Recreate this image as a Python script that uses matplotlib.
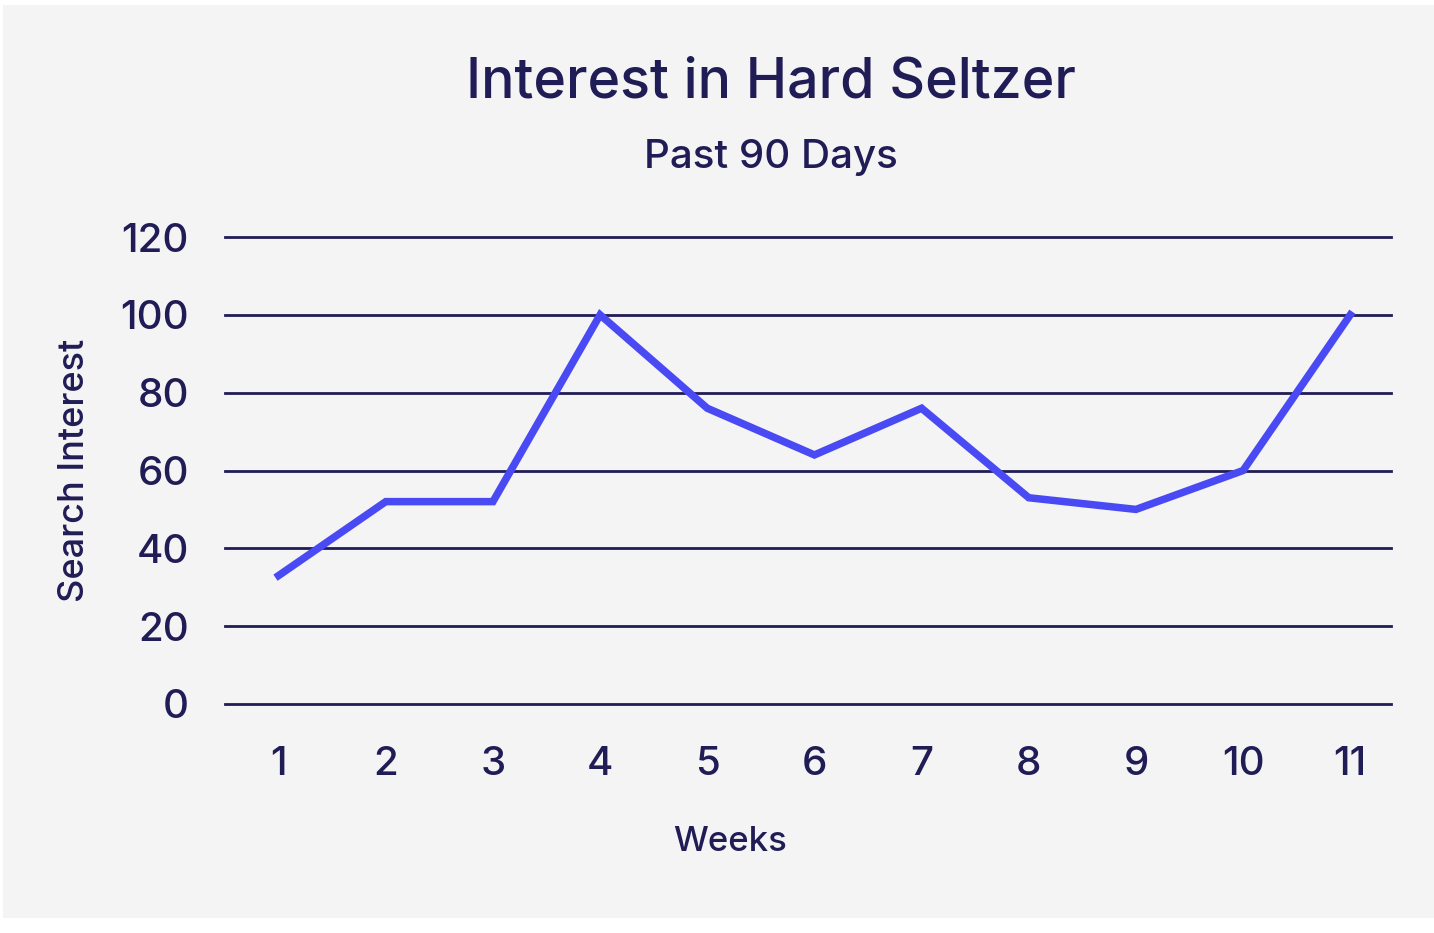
import matplotlib.pyplot as plt
import matplotlib.patches as patches

weeks = [1, 2, 3, 4, 5, 6, 7, 8, 9, 10, 11]
interest = [33, 52, 52, 100, 76, 64, 76, 53, 50, 60, 100]
y_ticks = [0, 20, 40, 60, 80, 100, 120]

navy = '#201c55'
blue = '#4a4af4'
bg = '#f4f4f4'

plt.rcParams['font.family'] = ['Inter', 'DejaVu Sans']

fig = plt.figure(figsize=(14.34, 9.33), dpi=100)
fig.patch.set_facecolor('white')
# grey card behind the chart
card = patches.Rectangle((3 / 1434, 15 / 933), 1431 / 1434, 913 / 933,
                         transform=fig.transFigure, facecolor=bg,
                         edgecolor='none', zorder=-10)
fig.add_artist(card)

ax = fig.add_axes([225 / 1434, 1 - 704 / 933, (1391 - 225) / 1434, (704 - 237) / 933])
ax.set_zorder(1)
ax.set_facecolor(bg)
ax.plot(weeks, interest, color=blue, lw=5.4, solid_joinstyle='miter', zorder=3, clip_on=False)

ax.set_ylim(0, 120)
ax.set_xlim(0.5, 11.38)
ax.set_yticks(y_ticks)
ax.set_xticks(weeks)
ax.grid(axis='y', color=navy, lw=2)
for gl in ax.get_ygridlines():
    gl.set_clip_on(False)
ax.set_axisbelow(True)
for s in ax.spines.values():
    s.set_visible(False)
ax.tick_params(length=0, labelsize=29, colors=navy)
ax.tick_params(axis='y', pad=26)
ax.tick_params(axis='x', pad=30)
for lab in ax.get_xticklabels() + ax.get_yticklabels():
    lab.set_fontweight('medium')

ax.set_ylabel('Search Interest', fontsize=26, color=navy, fontweight='medium', va='center')
ax.yaxis.set_label_coords((75 - 225) / 1166, 0.5)
ax.set_xlabel('Weeks', fontsize=25, color=navy, fontweight='medium', va='center')
ax.xaxis.set_label_coords((730 - 225) / 1166, -(842 - 704) / 467)

fig.text(771 / 1434, 1 - 83 / 933, 'Interest in Hard Seltzer', fontsize=40, color=navy,
         ha='center', va='center', fontweight='medium')
fig.text(771 / 1434, 1 - 157 / 933, 'Past 90 Days', fontsize=29, color=navy,
         ha='center', va='center', fontweight='medium')

fig.savefig('out.png', dpi=100, facecolor=fig.get_facecolor())
